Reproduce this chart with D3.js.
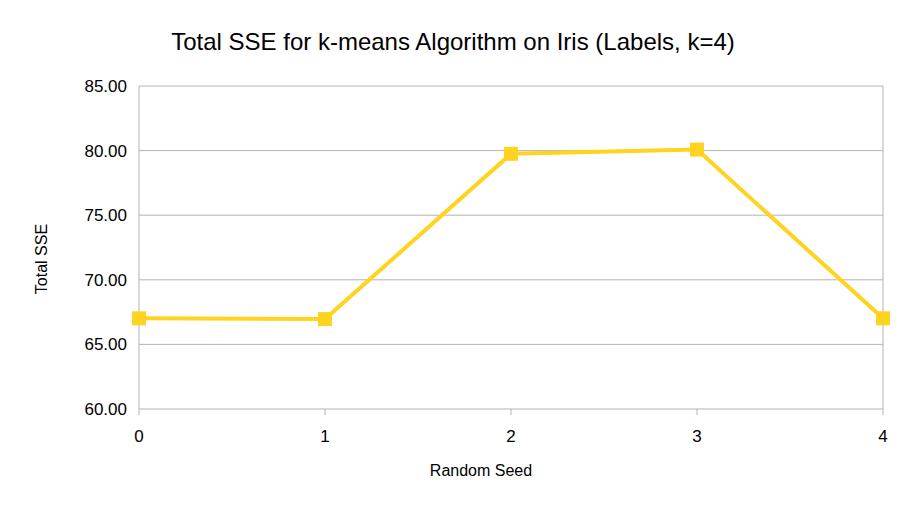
<!DOCTYPE html>
<html><head><meta charset="utf-8">
<script src="https://cdn.jsdelivr.net/npm/d3@7"></script>
<style>body{margin:0;background:#fff}text{font-family:"Liberation Sans",Arial,sans-serif}</style>
</head><body><svg id="c" width="907" height="510"></svg>
<script>
const seeds = ["0","1","2","3","4"];
const sse = [67.02, 66.96, 79.75, 80.08, 67.02];
const yTicks = [60,65,70,75,80,85];
const svg = d3.select("#c");
const L=139,R=883,T=86,B=409;
const x = d3.scalePoint().domain(seeds).range([L,R]);
const y = d3.scaleLinear().domain([60,85]).range([B,T]);
const g = svg.append("g");
yTicks.forEach(t=>{
  g.append("line").attr("x1",L).attr("x2",R).attr("y1",y(t)).attr("y2",y(t)).attr("stroke","#b3b3b3");
  g.append("text").attr("x",L-12).attr("y",y(t)+6).attr("text-anchor","end").attr("font-size",17).text(t.toFixed(2));
});
g.append("line").attr("x1",L).attr("x2",L).attr("y1",T).attr("y2",B).attr("stroke","#b3b3b3");
g.append("line").attr("x1",R).attr("x2",R).attr("y1",T).attr("y2",B).attr("stroke","#b3b3b3");
seeds.forEach(s=>{
  g.append("line").attr("x1",x(s)).attr("x2",x(s)).attr("y1",B).attr("y2",B+6).attr("stroke","#b3b3b3");
  g.append("text").attr("x",x(s)).attr("y",B+33).attr("text-anchor","middle").attr("font-size",17).text(s);
});
const data = seeds.map((s,i)=>[s,sse[i]]);
g.append("path").datum(data).attr("fill","none").attr("stroke","#ffd320").attr("stroke-width",4)
 .attr("stroke-linejoin","round").attr("d",d3.line().x(d=>x(d[0])).y(d=>y(d[1])));
g.selectAll("rect.m").data(data).enter().append("rect").attr("x",d=>x(d[0])-7).attr("y",d=>y(d[1])-7)
 .attr("width",14).attr("height",14).attr("fill","#ffd320");
svg.append("text").attr("x",453).attr("y",50).attr("text-anchor","middle").attr("font-size",24).text("Total SSE for k-means Algorithm on Iris (Labels, k=4)");
svg.append("text").attr("x",481).attr("y",476).attr("text-anchor","middle").attr("font-size",16).text("Random Seed");
svg.append("text").attr("transform","translate(47,259) rotate(-90)").attr("text-anchor","middle").attr("font-size",16).text("Total SSE");
</script></body></html>
